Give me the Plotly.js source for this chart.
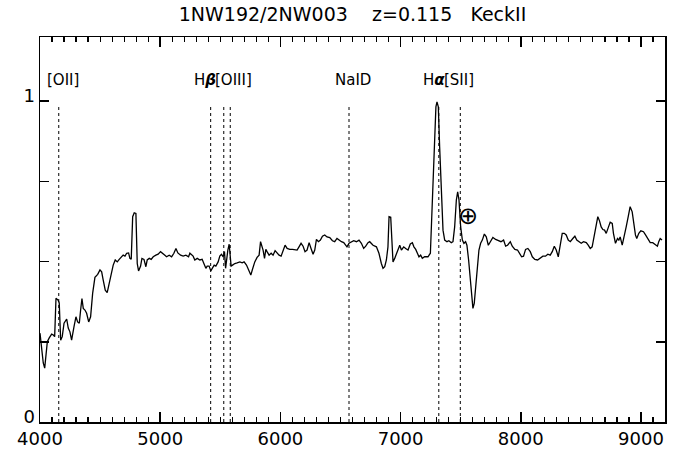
<!DOCTYPE html>
<html>
<head>
<meta charset="utf-8">
<script src="https://cdn.plot.ly/plotly-3.0.1.min.js"></script>
<style>html,body{margin:0;padding:0;background:#fff;}#chart{width:675px;height:464px;}</style>
</head>
<body>
<div id="chart"></div>
<script>
// Observed wavelength (Angstrom)
const wavelength = [
4000,4014,4027,4039,4050,4061,4077,4097,4111,4122,4133,4150,4160,4172,4185,4200,4222,4235,4249,4263,
4283,4299,4313,4327,4338,4349,4360,4374,4388,4405,4421,4438,4457,4480,4499,4513,4526,4543,4559,4574,
4590,4609,4626,4643,4659,4676,4692,4707,4721,4737,4748,4759,4771,4784,4798,4809,4820,4837,4848,4865,
4881,4892,4909,4925,4942,4964,4983,5003,5020,5039,5053,5075,5095,5114,5131,5147,5170,5191,5214,5236,
5247,5274,5288,5308,5330,5349,5366,5380,5391,5407,5421,5436,5449,5463,5482,5496,5510,5524,5535,5544,
5552,5563,5574,5582,5590,5602,5621,5640,5663,5682,5698,5718,5737,5754,5768,5787,5806,5823,5835,5845,
5856,5868,5879,5889,5906,5923,5939,5956,5973,5989,6006,6022,6039,6056,6078,6101,6122,6139,6155,6172,
6189,6205,6222,6239,6255,6272,6286,6300,6317,6333,6350,6369,6388,6411,6433,6452,6471,6488,6508,6527,
6544,6554,6571,6591,6610,6633,6654,6674,6693,6710,6729,6743,6771,6799,6820,6840,6854,6868,6882,6895,
6904,6918,6929,6937,6951,6965,6978,6993,7007,7026,7042,7062,7081,7098,7111,7126,7140,7153,7167,7181,
7200,7228,7248,7264,7281,7294,7303,7314,7325,7339,7353,7367,7386,7402,7422,7436,7450,7464,7475,7486,
7500,7514,7527,7541,7552,7566,7580,7591,7602,7613,7624,7638,7652,7666,7680,7697,7713,7730,7747,7768,
7791,7813,7835,7857,7874,7890,7913,7929,7951,7973,7990,8007,8023,8040,8059,8079,8096,8117,8140,8162,
8184,8206,8225,8245,8262,8279,8295,8312,8328,8345,8362,8378,8395,8412,8433,8450,8466,8483,8503,8522,
8545,8561,8578,8594,8611,8628,8641,8655,8669,8683,8697,8711,8727,8744,8761,8771,8788,8805,8816,8827,
8844,8861,8877,8894,8910,8927,8940,8954,8965,8982,8999,9021,9038,9057,9077,9098,9120,9137,9148,9160,
9175
];
// Normalised flux
const flux = [
0.277,0.224,0.184,0.168,0.215,0.250,0.262,0.274,0.271,0.266,0.386,0.380,0.371,0.255,0.266,0.308,0.321,0.293,0.281,0.255,
0.297,0.328,0.312,0.308,0.349,0.385,0.354,0.349,0.339,0.312,0.328,0.401,0.451,0.460,0.474,0.468,0.442,0.411,0.403,0.432,
0.461,0.489,0.505,0.499,0.507,0.513,0.520,0.517,0.526,0.527,0.510,0.507,0.640,0.652,0.650,0.494,0.471,0.486,0.510,0.507,
0.484,0.505,0.510,0.507,0.515,0.520,0.523,0.531,0.527,0.520,0.515,0.520,0.515,0.526,0.541,0.527,0.520,0.517,0.520,0.515,
0.526,0.517,0.505,0.510,0.505,0.507,0.492,0.479,0.486,0.486,0.471,0.482,0.489,0.486,0.499,0.517,0.523,0.515,0.531,0.479,
0.505,0.536,0.554,0.515,0.486,0.489,0.494,0.496,0.499,0.496,0.499,0.489,0.474,0.458,0.476,0.499,0.513,0.520,0.562,0.551,
0.536,0.510,0.538,0.531,0.520,0.526,0.520,0.534,0.527,0.520,0.517,0.534,0.551,0.541,0.538,0.538,0.536,0.536,0.546,0.557,
0.548,0.531,0.536,0.559,0.541,0.523,0.536,0.569,0.562,0.567,0.579,0.583,0.577,0.575,0.565,0.562,0.572,0.567,0.562,0.559,
0.551,0.546,0.557,0.562,0.565,0.562,0.567,0.557,0.541,0.548,0.559,0.562,0.551,0.546,0.526,0.494,0.479,0.484,0.505,0.546,
0.640,0.638,0.567,0.499,0.510,0.526,0.538,0.551,0.536,0.546,0.541,0.536,0.555,0.559,0.546,0.538,0.526,0.515,0.520,0.510,
0.515,0.515,0.526,0.671,0.858,0.982,0.998,0.982,0.858,0.692,0.598,0.567,0.562,0.565,0.559,0.562,0.608,0.692,0.717,0.692,
0.608,0.567,0.557,0.562,0.551,0.505,0.442,0.380,0.354,0.370,0.421,0.494,0.536,0.557,0.567,0.586,0.577,0.551,0.562,0.575,
0.569,0.565,0.562,0.567,0.548,0.551,0.562,0.548,0.538,0.536,0.527,0.515,0.517,0.538,0.541,0.531,0.515,0.507,0.505,0.510,
0.517,0.517,0.523,0.520,0.531,0.548,0.536,0.515,0.557,0.588,0.588,0.583,0.567,0.562,0.572,0.579,0.567,0.562,0.557,0.562,
0.559,0.551,0.541,0.546,0.583,0.619,0.640,0.627,0.608,0.600,0.598,0.588,0.607,0.623,0.619,0.588,0.557,0.572,0.567,0.577,
0.551,0.577,0.608,0.640,0.671,0.655,0.624,0.583,0.572,0.588,0.596,0.593,0.583,0.569,0.559,0.559,0.551,0.548,0.562,0.572,
0.567
];
// Redshifted line positions (z = 0.115)
const lineWavelengths = [4156, 5420, 5529, 5583, 6571, 7318, 7497];
const yTickVals = [0, 0.25, 0.5, 0.75, 1];
const yTickText = ["0", "", "", "", "1"];
const lineLabels = ["[OII]", "H<i><b>β</b></i>", "[OIII]", "NaID", "H<i><b>α</b></i>", "[SII]"];
const labelX = [4190, 5471, 5448, 6602, 7375, 7352];
const labelAnchor = ["center", "right", "left", "center", "right", "left"];

const fontFam = "DejaVu Sans, Liberation Sans, sans-serif";

const shapes = lineWavelengths.map(w => ({
  type: "line", xref: "x", yref: "y", x0: w, x1: w, y0: 0, y1: 0.99,
  line: {color: "#000", width: 1, dash: "dot"}
}));

const annotations = lineLabels.map((t, i) => ({
  x: labelX[i], y: 1.065, xref: "x", yref: "y", text: t, showarrow: false,
  xanchor: labelAnchor[i], yanchor: "middle", borderpad: 0,
  font: {family: fontFam, size: 15, color: "#000"}
}));
annotations.push({
  x: 7558, y: 0.642, xref: "x", yref: "y", text: "⊕", showarrow: false,
  xanchor: "center", yanchor: "middle",
  font: {family: fontFam, size: 24, color: "#000"}
});

const trace = {
  x: wavelength, y: flux, type: "scatter", mode: "lines",
  line: {color: "#000", width: 1.3}, hoverinfo: "skip"
};

const layout = {
  width: 675, height: 464,
  margin: {l: 40, r: 10, t: 37, b: 42},
  paper_bgcolor: "#fff", plot_bgcolor: "#fff",
  showlegend: false,
  title: {
    text: "1NW192/2NW003\u00a0\u00a0\u00a0\u00a0z=0.115\u00a0\u00a0\u00a0KeckII",
    x: 0.5, xref: "paper", xanchor: "center",
    y: 0.97, yref: "container", yanchor: "middle",
    font: {family: fontFam, size: 19, color: "#000"}
  },
  xaxis: {
    range: [4000, 9200], showgrid: false, zeroline: false,
    showline: true, linecolor: "#000", linewidth: 1.5, mirror: "ticks",
    ticks: "inside", ticklen: 10, tickcolor: "#000", tickwidth: 1.5,
    tickmode: "linear", tick0: 4000, dtick: 1000,
    tickfont: {family: fontFam, size: 18, color: "#000"},
    minor: {dtick: 100, ticks: "inside", ticklen: 5, tickcolor: "#000", tickwidth: 1.2, showgrid: false}
  },
  yaxis: {
    range: [0, 1.2], showgrid: false, zeroline: false,
    showline: true, linecolor: "#000", linewidth: 1.5, mirror: "ticks",
    ticks: "inside", ticklen: 9, tickcolor: "#000", tickwidth: 1.5,
    tickvals: yTickVals, ticktext: yTickText,
    ticklabelshift: -5,
    tickfont: {family: fontFam, size: 18, color: "#000"}
  },
  shapes: shapes,
  annotations: annotations
};

Plotly.newPlot("chart", [trace], layout, {staticPlot: true, displayModeBar: false});
</script>
</body>
</html>
